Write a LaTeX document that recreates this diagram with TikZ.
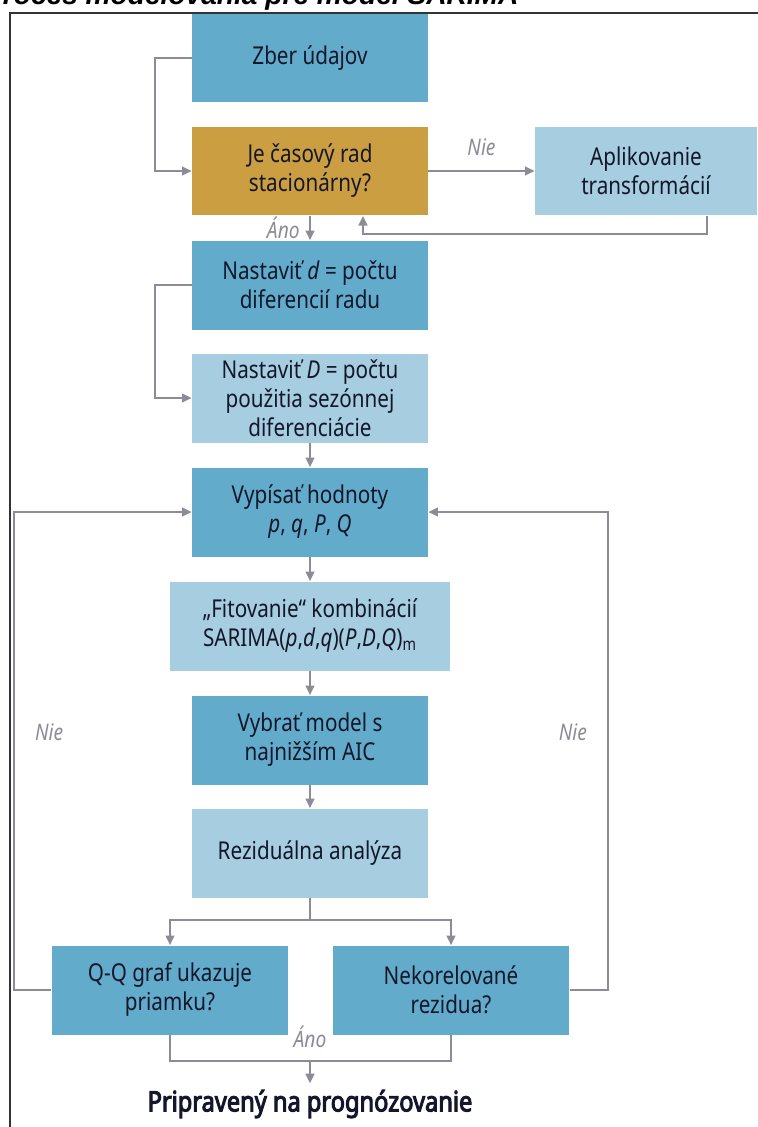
\documentclass[tikz,border=0pt]{standalone}
\usepackage{fontspec}
\setmainfont[FakeStretch=0.84]{Noto Sans}
\newfontfamily\heavyfont[FakeStretch=0.84, FakeBold=3.5]{Noto Sans}
\newfontfamily\titlefont{Liberation Sans}
\usetikzlibrary{calc,arrows.meta}
\definecolor{darkbox}{HTML}{62ABCA}
\definecolor{lightbox}{HTML}{A6CEE0}
\definecolor{goldbox}{HTML}{CC9E42}
\definecolor{ink}{HTML}{14172B}
\definecolor{linegray}{HTML}{8C8C99}
\definecolor{framegray}{HTML}{333333}

\begin{document}
\begin{tikzpicture}[x=0.02cm, y=-0.02cm,
  box/.style={minimum width=4.72cm, minimum height=1.78cm, align=center, inner sep=0pt,
    text=ink, font=\fontsize{14}{16.5}\selectfont},
  dark/.style={box, fill=darkbox},
  light/.style={box, fill=lightbox},
  gold/.style={box, fill=goldbox},
  wire/.style={draw=linegray, line width=1.1pt},
  link/.style={wire, -{Triangle[length=5.5pt, width=5pt]}},
  lbl/.style={text=linegray, font=\fontsize{13}{15}\selectfont\itshape}]
\clip (0,0) rectangle (758,1127);

%title and frame
\node[anchor=base west, font={\titlefont\fontsize{16}{19}\selectfont\bfseries\itshape}] (title) at (-22,4) {Proces modelovania pre model SARIMA};
\draw[framegray, line width=0.9pt] (10,1140) -- (10,13) -- (770,13);

%boxes
\node[dark] (zber) at (310,58) {Zber údajov};
\node[gold] (stac) at (310,171) {Je časový rad\\stacionárny?};
\node[light, minimum width=4.44cm] (transf) at (646,171) {Aplikovanie\\transformácií};
\node[dark] (dset) at (310,285) {Nastaviť \textit{d} = počtu\\diferencií radu};
\node[light] (Dset) at (310,398) {Nastaviť \textit{D} = počtu\\použitia sezónnej\\diferenciácie};
\node[dark] (vyp) at (310,512) {Vypísať hodnoty\\\textit{p}, \textit{q}, \textit{P}, \textit{Q}};
\node[light, minimum width=5.6cm] (fit) at (310,626) {„Fitovanie“ kombinácií\\SARIMA(\textit{p},\textit{d},\textit{q})(\textit{P},\textit{D},\textit{Q})\textsubscript{m}};
\node[dark] (aic) at (310,740) {Vybrať model s\\najnižším AIC};
\node[light] (rez) at (310,853) {Reziduálna analýza};
\node[dark, minimum width=4.74cm] (qq) at (170,990) {Q-Q graf ukazuje\\priamku?};
\node[dark, minimum width=4.74cm] (nekor) at (451,990) {Nekorelované\\rezidua?};
\node[text=ink, inner sep=3.5pt, font=\heavyfont\fontsize{16}{18}\selectfont] (ready) at (310,1104) {Pripravený na prognózovanie};

%connectors
\draw[link] (zber.west) -- ++(-37,0) |- (stac.west);
\draw[link] (stac.east) -- node[lbl, above=5pt] {Nie} (transf.west);
\draw[link] ($(transf.south)+(61,0)$) -- ++(0,18) -| ($(stac.south)+(53,0)$);
\draw[link] (stac) -- node[lbl, left=2pt] {Áno} (dset);
\draw[link] (dset.west) -- ++(-37,0) |- (Dset.west);
\foreach \a/\b in {Dset/vyp, fit/aic, aic/rez} {\draw[link] (\a) -- (\b);}
\draw[link] (vyp) -- (fit);
\draw[wire] (rez.south) -- ++(0,22) coordinate (split);
\draw[link] (split) -| (qq.north);
\draw[link] (split) -| (nekor.north);
\draw[link] (qq.west) -- ++(-37,0) |- node[lbl, pos=0.27, right=8pt] {Nie} (vyp.west);
\draw[link] (nekor.east) -- ++(38,0) |- node[lbl, pos=0.27, left=8pt] {Nie} (vyp.east);
\draw[wire] (qq.south) -- ++(0,26) coordinate (qqb) -| (nekor.south);
\coordinate (join) at (qqb -| rez.south);
\draw[link] (join) -- (ready);
\node[lbl] (yes) at (310,1037) {Áno};
\end{tikzpicture}
\end{document}
